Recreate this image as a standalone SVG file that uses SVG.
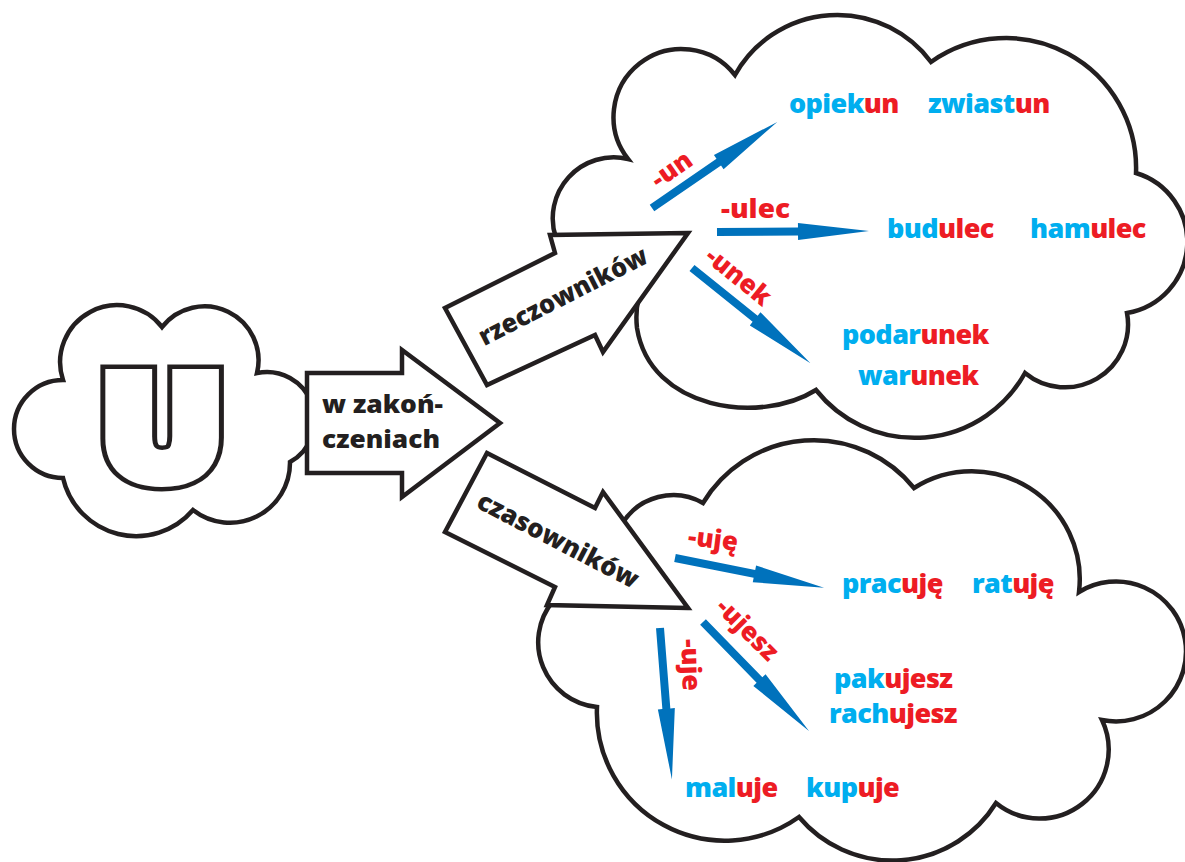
<svg xmlns="http://www.w3.org/2000/svg" xmlns:xlink="http://www.w3.org/1999/xlink" width="1185" height="862" viewBox="0 0 1185 862">
<style>
.ol{fill:#fff;stroke:#231f20;stroke-width:4.5;stroke-linejoin:miter}
.bk{font-family:"Open Sans","Liberation Sans",sans-serif;font-weight:800;fill:#231f20}
.w{font-family:"Open Sans","Liberation Sans",sans-serif;font-weight:800;font-size:27px;letter-spacing:-0.6px;fill:#00aeef}
.r{fill:#ed1c24}
.lb{font-family:"Open Sans","Liberation Sans",sans-serif;font-weight:800;font-size:26px;fill:#ed1c24}
.ba{fill:#0072bc}
</style>
<defs>
<polygon id="barrow" points="0,-4 81,-4 81,-8.5 152,0 81,8.5 81,4 0,4"/>
</defs>
<rect width="1185" height="862" fill="#fff"/>

<g id="cloud-u">
<path class="ol" d="M63,380 A57,57 0 0 1 162,327 A54,54 0 0 1 257,373 A48,48 0 0 1 290,462 A60,60 0 0 1 193,510 A75,75 0 0 1 63,478 A49,49 0 0 1 63,380 Z"/>
<g transform="translate(162,479) scale(1.12,1)" font-family="'Open Sans','Liberation Sans',sans-serif" font-weight="800" font-size="143" text-anchor="middle">
<text x="0" y="0" fill="#231f20" stroke="#231f20" stroke-width="23">U</text>
<text x="0" y="0" fill="#fff" stroke="#fff" stroke-width="14">U</text>
</g>
</g>

<g id="cloud-rzeczowniki">
<path class="ol" d="M556,238 A61,61 0 0 1 628,159 A68,68 0 0 1 735,75 A117,117 0 0 1 931,62 A130,130 0 0 1 1136,173 A72,72 0 0 1 1127,313 A63,63 0 0 1 1025,373 A126,126 0 0 1 816,390 C760,425 650,410 637,328 Q634,300 646,282 L556,238 Z"/>
<text class="w" x="789" y="113">opiek<tspan class="r">un</tspan></text>
<text class="w" x="928" y="113">zwiast<tspan class="r">un</tspan></text>
<text class="w" x="887" y="238">bud<tspan class="r">ulec</tspan></text>
<text class="w" x="1030" y="238">ham<tspan class="r">ulec</tspan></text>
<text class="w" x="842" y="344">podar<tspan class="r">unek</tspan></text>
<text class="w" x="858" y="385">war<tspan class="r">unek</tspan></text>
</g>

<g id="cloud-czasowniki">
<path class="ol" d="M622,524 A60,60 0 0 1 703,503 A129,129 0 0 1 914,488 A108,108 0 0 1 1079,592 A70,70 0 1 1 1102,720 A69,69 0 0 1 996,803 A122,122 0 0 1 799,817 A128,128 0 0 1 597,707 A65,65 0 0 1 553,601 Z"/>
<text class="w" x="842" y="593">prac<tspan class="r">uję</tspan></text>
<text class="w" x="972" y="593">rat<tspan class="r">uję</tspan></text>
<text class="w" x="834" y="688">pak<tspan class="r">ujesz</tspan></text>
<text class="w" x="829" y="723">rach<tspan class="r">ujesz</tspan></text>
<text class="w" x="685" y="797">mal<tspan class="r">uje</tspan></text>
<text class="w" x="806" y="797">kup<tspan class="r">uje</tspan></text>
</g>

<g id="arrow-zakonczeniach">
<polygon class="ol" points="307,373 402,373 402,350 500,423 402,497 402,473 307,473"/>
<text class="bk" x="322" y="413" font-size="25" textLength="121" lengthAdjust="spacingAndGlyphs">w zakoń-</text>
<text class="bk" x="322" y="448" font-size="25" textLength="118" lengthAdjust="spacingAndGlyphs">czeniach</text>
</g>

<g id="arrow-rzeczownikow">
<polygon class="ol" points="688,233 550,235 555,253 445,308 487,385 595,335 603,352"/>
<text class="bk" font-size="26" text-anchor="middle" transform="translate(567,304) rotate(-27)" textLength="186" lengthAdjust="spacingAndGlyphs">rzeczowników</text>
</g>

<g id="arrow-czasownikow">
<polygon class="ol" points="688,608 547,605 555,587 445,532 487,453 595,508 603,492"/>
<text class="bk" font-size="26" text-anchor="middle" transform="translate(554,548) rotate(27.5)" textLength="178" lengthAdjust="spacingAndGlyphs">czasowników</text>
</g>

<g id="connectors">
<use xlink:href="#barrow" class="ba" transform="translate(652,208) rotate(-34.5)"/>
<use xlink:href="#barrow" class="ba" transform="translate(717,232) rotate(-0.4)"/>
<use xlink:href="#barrow" class="ba" transform="translate(692,268) rotate(38.8)"/>
<use xlink:href="#barrow" class="ba" transform="translate(675,558) rotate(11.3)"/>
<use xlink:href="#barrow" class="ba" transform="translate(703,622) rotate(45.8)"/>
<use xlink:href="#barrow" class="ba" transform="translate(660,628) rotate(85.5)"/>
<text class="lb" text-anchor="middle" transform="translate(672,170) rotate(-35)" y="8" textLength="44" lengthAdjust="spacingAndGlyphs">-un</text>
<text class="lb" x="721" y="218" textLength="69" lengthAdjust="spacingAndGlyphs">-ulec</text>
<text class="lb" text-anchor="middle" transform="translate(738,277) rotate(39)" y="8" textLength="76" lengthAdjust="spacingAndGlyphs">-unek</text>
<text class="lb" text-anchor="middle" transform="translate(713,540) rotate(7)" y="8" textLength="50" lengthAdjust="spacingAndGlyphs">-uję</text>
<text class="lb" text-anchor="middle" transform="translate(747,630) rotate(45)" y="8" textLength="76" lengthAdjust="spacingAndGlyphs">-ujesz</text>
<text class="lb" text-anchor="middle" transform="translate(690,665) rotate(88)" y="8" textLength="52" lengthAdjust="spacingAndGlyphs">-uje</text>
</g>
</svg>
